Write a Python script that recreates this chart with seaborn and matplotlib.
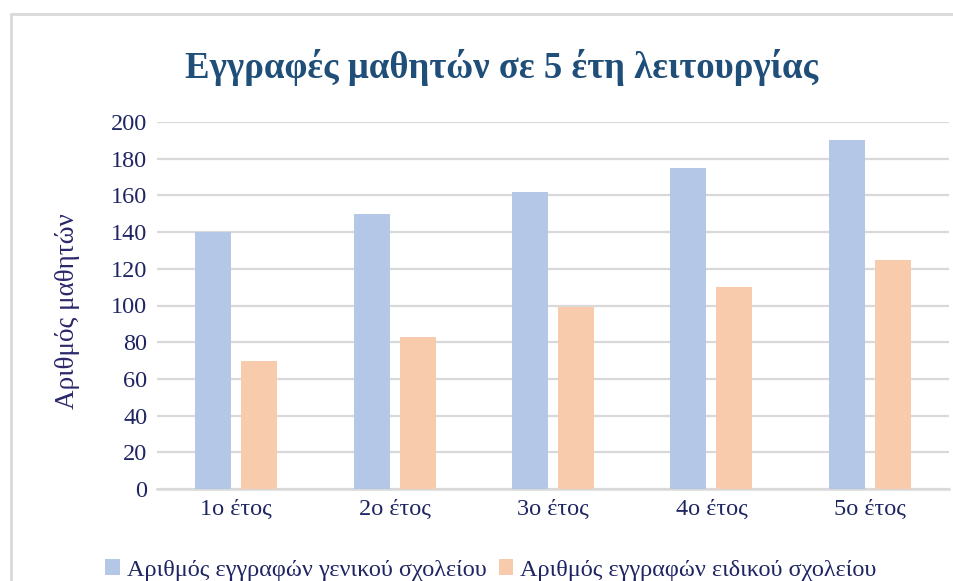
import matplotlib
matplotlib.use("Agg")
import matplotlib.pyplot as plt
from matplotlib.patches import Patch
from matplotlib.lines import Line2D
import seaborn as sns
import pandas as pd

# Data
years = ["1ο έτος", "2ο έτος", "3ο έτος", "4ο έτος", "5ο έτος"]
general_school = [140, 150, 162, 175, 190]
special_school = [70, 83, 99, 110, 125]
series_names = ["Αριθμός εγγραφών γενικού σχολείου", "Αριθμός εγγραφών ειδικού σχολείου"]
y_ticks = [0, 20, 40, 60, 80, 100, 120, 140, 160, 180, 200]

df = pd.DataFrame({
    "year": years * 2,
    "value": general_school + special_school,
    "series": [series_names[0]] * len(years) + [series_names[1]] * len(years),
})

BLUE = "#B4C7E7"
PEACH = "#F8CBAD"
TEXT = "#1F2563"
LABEL = "#2B276B"
TITLE = "#1F4E79"
GRID = "#D9D9D9"

sns.set_theme(style="white")
plt.rcParams["font.family"] = ["Liberation Serif", "DejaVu Serif"]

W, H = 954, 581
fig = plt.figure(figsize=(W / 100, H / 100), dpi=100)
fig.patch.set_facecolor("white")

# outer chart frame (top and left edges)
fig.add_artist(Line2D([11 / W, 1.0], [1 - 14 / H, 1 - 14 / H], transform=fig.transFigure,
                      color=GRID, linewidth=2.0))
fig.add_artist(Line2D([11 / W, 11 / W], [0.0, 1 - 14 / H], transform=fig.transFigure,
                      color=GRID, linewidth=2.0))

ax = fig.add_axes([157 / W, 1 - 489 / H, (949 - 157) / W, (489 - 122) / H])
sns.barplot(data=df, x="year", y="value", hue="series", palette=[BLUE, PEACH],
            width=0.582, gap=0.217, saturation=1, legend=False, linewidth=0,
            ax=ax, zorder=3)

ax.set_ylim(0, 200)
ax.set_xlim(-0.5, len(years) - 0.5)
ax.set_yticks(y_ticks)
ax.yaxis.grid(True, color=GRID, linewidth=1.6, zorder=0)
ax.set_axisbelow(True)
for s in ["top", "right", "left"]:
    ax.spines[s].set_visible(False)
ax.spines["bottom"].set_color(GRID)
ax.spines["bottom"].set_linewidth(1.8)
ax.tick_params(axis="both", length=0, labelsize=17.5, colors=TEXT)
ax.tick_params(axis="y", pad=7)
ax.tick_params(axis="x", pad=7)
ax.set_xlabel("")
ax.set_ylabel("")

fig.text(68 / W, 1 - 311 / H, "Αριθμός μαθητών", rotation=90, ha="center", va="center",
         fontsize=19.5, color=LABEL)
fig.text(502 / W, 1 - 68 / H, "Εγγραφές μαθητών σε 5 έτη λειτουργίας", ha="center",
         va="center", fontsize=26.5, fontweight="bold", color=TITLE)

handles = [Patch(facecolor=BLUE, edgecolor="none"), Patch(facecolor=PEACH, edgecolor="none")]
fig.legend(handles, series_names, loc="center", bbox_to_anchor=(491 / W, 1 - 570 / H),
           ncol=2, frameon=False, fontsize=17.5, labelcolor=TEXT,
           handlelength=0.58, handleheight=0.58, handletextpad=0.3, columnspacing=0.5,
           borderpad=0)

fig.savefig("out.png", dpi=100, facecolor="white")
